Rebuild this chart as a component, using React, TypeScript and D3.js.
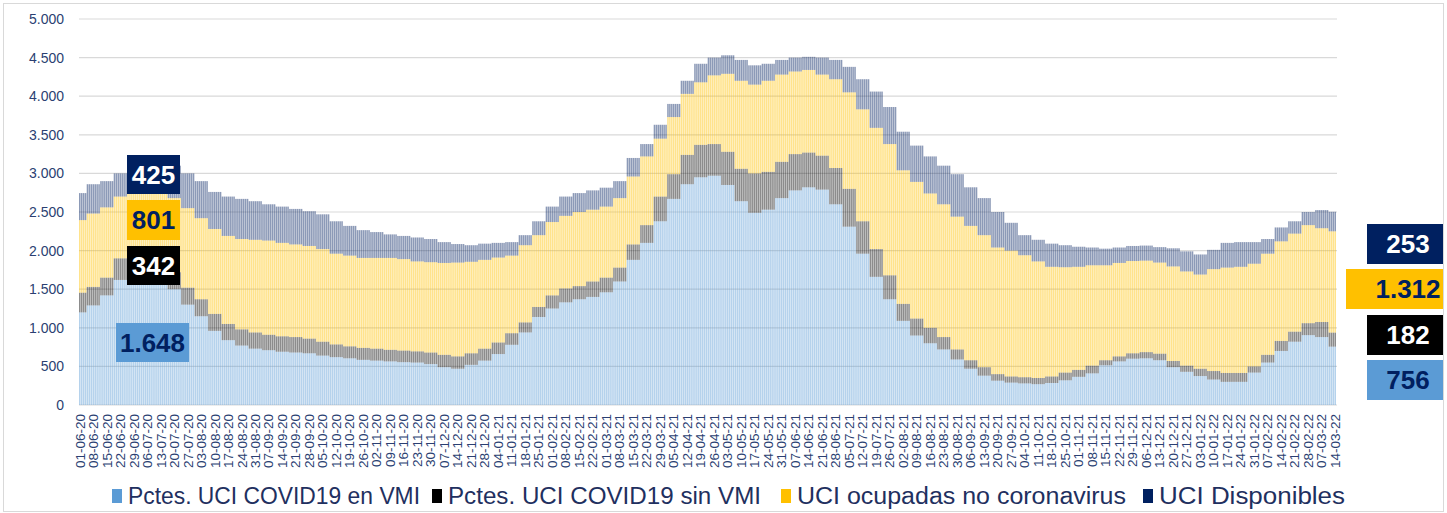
import React from 'react';
import * as d3 from 'd3';

// weekly tick labels (one every 7 days, bars are daily)
const weekLabels = [
  '01-06-20', '08-06-20', '15-06-20', '22-06-20', '29-06-20', '06-07-20', '13-07-20', '20-07-20', '27-07-20',
  '03-08-20', '10-08-20', '17-08-20', '24-08-20', '31-08-20', '07-09-20', '14-09-20', '21-09-20', '28-09-20',
  '05-10-20', '12-10-20', '19-10-20', '26-10-20', '02-11-20', '09-11-20', '16-11-20', '23-11-20', '30-11-20',
  '07-12-20', '14-12-20', '21-12-20', '28-12-20', '04-01-21', '11-01-21', '18-01-21', '25-01-21', '01-02-21',
  '08-02-21', '15-02-21', '22-02-21', '01-03-21', '08-03-21', '15-03-21', '22-03-21', '29-03-21', '05-04-21',
  '12-04-21', '19-04-21', '26-04-21', '03-05-21', '10-05-21', '17-05-21', '24-05-21', '31-05-21', '07-06-21',
  '14-06-21', '21-06-21', '28-06-21', '05-07-21', '12-07-21', '19-07-21', '26-07-21', '02-08-21', '09-08-21',
  '16-08-21', '23-08-21', '30-08-21', '06-09-21', '13-09-21', '20-09-21', '27-09-21', '04-10-21', '11-10-21',
  '18-10-21', '25-10-21', '01-11-21', '08-11-21', '15-11-21', '22-11-21', '29-11-21', '06-12-21', '13-12-21',
  '20-12-21', '27-12-21', '03-01-22', '10-01-22', '17-01-22', '24-01-22', '31-01-22', '07-02-22', '14-02-22',
  '21-02-22', '28-02-22', '07-03-22', '14-03-22'
];

// values read at each weekly tick
const vmi = [
  1200, 1290, 1420, 1620, 1740, 1750, 1640, 1500, 1300, 1150,
  960, 840, 770, 730, 710, 690, 680, 670, 640, 620,
  605, 585, 575, 565, 555, 550, 530, 490, 470, 520,
  575, 660, 780, 940, 1140, 1250, 1330, 1370, 1400, 1460,
  1600, 1880, 2100, 2380, 2670, 2860, 2950, 2970, 2850, 2640,
  2490, 2530, 2680, 2780, 2820, 2790, 2600, 2310, 1960, 1660,
  1370, 1090, 900, 800, 720, 590, 470, 380, 315, 290,
  280, 270, 285, 320, 365, 410, 515, 565, 600, 605,
  580, 490, 430, 375, 330, 300, 300, 420, 550, 700,
  820, 905, 880, 756
];
const sinVmi = [
  255, 240, 230, 280, 260, 250, 260, 220, 220, 220,
  220, 210, 210, 210, 200, 200, 200, 190, 180, 165,
  155, 155, 155, 150, 150, 145, 150, 160, 160, 150,
  155, 150, 150, 130, 130, 170, 180, 170, 200, 190,
  180, 200, 230, 320, 320, 380, 420, 410, 430, 420,
  510, 490, 470, 470, 450, 440, 470, 490, 420, 360,
  310, 220, 220, 200, 160, 130, 110, 110, 85, 80,
  80, 80, 85, 100, 90, 100, 65, 65, 70, 80,
  85, 80, 80, 95, 110, 115, 115, 80, 100, 130,
  130, 155, 195, 182
];
const noCovid = [
  940, 950, 910, 800, 760, 790, 860, 960, 1030, 1050,
  1100, 1140, 1170, 1200, 1220, 1210, 1200, 1200, 1200, 1175,
  1175, 1165, 1175, 1190, 1185, 1165, 1170, 1190, 1215, 1185,
  1150, 1100, 1005, 1000, 930, 950, 940, 960, 930, 920,
  900, 880, 890, 750, 740, 790, 810, 890, 1010, 1140,
  1150, 1180, 1130, 1070, 1070, 1050, 1150, 1250, 1450, 1570,
  1700, 1730, 1770, 1740, 1720, 1720, 1740, 1710, 1640, 1630,
  1580, 1510, 1420, 1365, 1335, 1300, 1230, 1210, 1195, 1185,
  1180, 1225, 1220, 1220, 1320, 1365, 1375, 1330, 1310, 1290,
  1270, 1270, 1215, 1312
];
const disponibles = [
  350, 380, 340, 300, 300, 320, 360, 420, 450, 480,
  480, 510, 520, 500, 470, 470, 460, 450, 450, 420,
  385, 360, 335, 305, 300, 310, 300, 270, 240, 215,
  210, 190, 175, 130, 180, 200, 250, 245, 250, 245,
  220, 240, 160, 180, 170, 170, 240, 230, 240, 270,
  250, 220, 190, 180, 170, 220, 250, 330, 390, 470,
  480, 500, 470, 480, 500, 550, 500, 480, 460, 360,
  260, 280, 300, 285, 260, 230, 215, 200, 195, 195,
  200, 235, 260, 260, 250, 320, 320, 280, 190, 180,
  160, 170, 235, 253
];

const seriesKeys = ['vmi', 'sinVmi', 'noCovid', 'disponibles'];
const seriesNames = ['Pctes. UCI COVID19 en VMI', 'Pctes. UCI COVID19 sin VMI', 'UCI ocupadas no coronavirus', 'UCI Disponibles'];
const seriesColors = ['#5b9bd5', '#000000', '#ffc000', '#002060'];
const yTicks = [0, 500, 1000, 1500, 2000, 2500, 3000, 3500, 4000, 4500, 5000];

// boxed value callouts
const leftCallouts = [
  { text: '425', fill: '#002060', color: '#ffffff' },
  { text: '801', fill: '#ffc000', color: '#002060' },
  { text: '342', fill: '#000000', color: '#ffffff' },
  { text: '1.648', fill: '#5b9bd5', color: '#002060' },
];
const rightCallouts = [
  { text: '253', fill: '#002060', color: '#ffffff' },
  { text: '1.312', fill: '#ffc000', color: '#002060' },
  { text: '182', fill: '#000000', color: '#ffffff' },
  { text: '756', fill: '#5b9bd5', color: '#002060' },
];

const W = 1447;
const H = 513;
const plot = { left: 79, right: 1336, top: 19, bottom: 405 };
const font = '"Liberation Sans", Arial, sans-serif';
const textColor = '#2b3f72';

const nDays = (weekLabels.length - 1) * 7 + 1;
const seriesData: Record<string, number[]> = { vmi, sinVmi, noCovid, disponibles };

// each daily bar carries the reading of its nearest weekly tick
const rows = d3.range(nDays).map(d => {
  const k = Math.min(weekLabels.length - 1, Math.round(d / 7));
  const row: any = { day: d };
  seriesKeys.forEach(key => { row[key] = seriesData[key][k]; });
  return row;
});

const fmt = d3.formatLocale({ decimal: ',', thousands: '.', grouping: [3], currency: ['', ''] }).format(',');

export default function App() {
  const x = d3.scaleBand<number>()
    .domain(d3.range(nDays))
    .range([plot.left, plot.right])
    .paddingInner(0.2)
    .paddingOuter(0);
  const y = d3.scaleLinear().domain([0, 5000]).range([plot.bottom, plot.top]);
  const stacked = d3.stack<any>().keys(seriesKeys)(rows);

  const legendX = [112, 432, 781, 1143];
  const legendLen = [292, 313, 329, 186];
  const leftBoxes = [
    { x: 127, y: 155, w: 53, h: 39 },
    { x: 127, y: 200, w: 53, h: 40 },
    { x: 127, y: 246, w: 53, h: 39 },
    { x: 116, y: 323, w: 73, h: 39 },
  ];
  const rightBoxes = [
    { x: 1367, y: 224, w: 76, h: 40 },
    { x: 1346, y: 269, w: 97, h: 40 },
    { x: 1367, y: 315, w: 76, h: 40 },
    { x: 1367, y: 360, w: 76, h: 40 },
  ];

  return (
    <svg width={W} height={H} style={{ position: 'absolute', left: 0, top: 0, display: 'block' }} fontFamily={font}>
      <rect x={0} y={0} width={W} height={H} fill="#ffffff" />
      <rect x={3.5} y={3.5} width={1440} height={508} fill="none" stroke="#d9d9d9" />

      {yTicks.map(t => (
        <g key={t}>
          <line x1={plot.left} x2={plot.right + 1} y1={y(t)} y2={y(t)} stroke="#d9d9d9" strokeWidth={1.2} />
          <text x={64} y={y(t)} dy="0.35em" textAnchor="end" fontSize={14} fill={textColor}>{fmt(t)}</text>
        </g>
      ))}

      {stacked.map((s, i) => (
        <g key={seriesKeys[i]} fill={seriesColors[i]} fillOpacity={0.45}>
          {s.map((d, j) => (
            <rect key={j} x={x(j)} y={y(d[1])} width={x.bandwidth()} height={Math.max(0, y(d[0]) - y(d[1]))} />
          ))}
        </g>
      ))}

      {weekLabels.map((lab, i) => {
        const cx = (x(i * 7) as number) + x.bandwidth() / 2;
        return (
          <text key={lab} transform={`translate(${cx},414) rotate(-90)`} textAnchor="end" dy="0.35em" fontSize={13.5} fill={textColor}>{lab}</text>
        );
      })}

      {leftCallouts.map((c, i) => {
        const b = leftBoxes[i];
        return (
          <g key={'l' + i}>
            <rect x={b.x} y={b.y} width={b.w} height={b.h} fill={c.fill} />
            <text x={b.x + b.w / 2} y={b.y + b.h / 2} dy="0.36em" textAnchor="middle" fontSize={26} fontWeight="bold" fill={c.color}>{c.text}</text>
          </g>
        );
      })}
      {rightCallouts.map((c, i) => {
        const b = rightBoxes[i];
        return (
          <g key={'r' + i}>
            <rect x={b.x} y={b.y} width={b.w} height={b.h} fill={c.fill} />
            <text x={1408} y={b.y + b.h / 2} dy="0.36em" textAnchor="middle" fontSize={26} fontWeight="bold" fill={c.color}>{c.text}</text>
          </g>
        );
      })}

      {seriesNames.map((n, i) => (
        <g key={n}>
          <rect x={legendX[i]} y={489} width={10} height={14} fill={seriesColors[i]} />
          <text x={legendX[i] + 16} y={496} dy="0.36em" fontSize={23} textLength={legendLen[i]} lengthAdjust="spacingAndGlyphs" fill="#1f3060">{n}</text>
        </g>
      ))}
    </svg>
  );
}
